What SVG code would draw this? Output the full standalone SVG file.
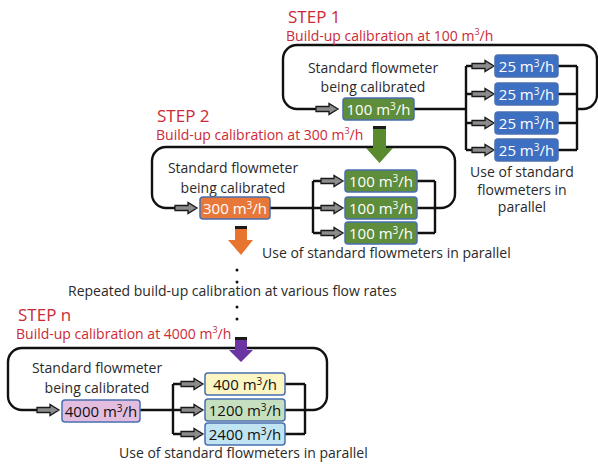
<svg xmlns="http://www.w3.org/2000/svg" width="598" height="464" viewBox="0 0 598 464">
<style>
.t{font-family:"Open Sans","Noto Sans",sans-serif;font-size:14px;fill:#2a2a2a}
.tc{text-anchor:middle}
.step{font-family:"Open Sans","Noto Sans",sans-serif;font-size:17px;fill:#cc2a36}
.bu{font-family:"Open Sans","Noto Sans",sans-serif;font-size:14px;fill:#cc2a36}
.bx{stroke:#4a6fae;stroke-width:1.5}
.bt{font-family:"Open Sans","Noto Sans",sans-serif;font-size:15px;text-anchor:middle}
.w{fill:#ffffff}
.k{fill:#111111}
.ln{fill:none;stroke:#111111;stroke-width:2.4;stroke-linejoin:round}
.green{fill:#5e8d3c}
.blue{fill:#3d6fc2}
.orange{fill:#e8773a}
.pink{fill:#e2bde0}
.yellow{fill:#fbf6c4}
.lgreen{fill:#c6e0bf}
.lblue{fill:#c0e4f2}
</style>
<defs>
<path id="sa" d="M0,-2.5 H13 V-5.5 L22,0 L13,5.5 V2.5 H0 Z" fill="#8c8c8c" stroke="#1a1a1a" stroke-width="1.3" stroke-linejoin="miter"/>
</defs>

<g id="connectors">
<path class="ln" d="M577,109 H583 A14,14 0 0 0 597,95 V59 A14,14 0 0 0 583,45 H297 A14,14 0 0 0 283,59 V95 A14,14 0 0 0 297,109 H316"/>
<path class="ln" d="M414,109 H466 M466,66 V150 M466,66 H473 M466,94 H473 M466,123 H473 M466,150 H473"/>
<path class="ln" d="M558,66 H577 M558,94 H577 M558,123 H577 M558,150 H577 M577,66 V150"/>
<use href="#sa" x="316" y="109"/>
<use href="#sa" x="472" y="66"/>
<use href="#sa" x="472" y="94"/>
<use href="#sa" x="472" y="123"/>
<use href="#sa" x="472" y="150"/>

<path class="ln" d="M435,208 H441 A14,14 0 0 0 455,194 V161 A14,14 0 0 0 441,147 H166 A14,14 0 0 0 152,161 V194 A14,14 0 0 0 166,208 H175"/>
<path class="ln" d="M270,208 H313 M313,181 V233 M313,181 H321 M313,208 H321 M313,233 H321"/>
<path class="ln" d="M417,181 H435 M417,208 H435 M417,233 H435 M435,181 V233"/>
<use href="#sa" x="175" y="208"/>
<use href="#sa" x="321" y="181"/>
<use href="#sa" x="321" y="208"/>
<use href="#sa" x="321" y="233"/>

<path class="ln" d="M305,410 H313 A14,14 0 0 0 327,396 V362 A14,14 0 0 0 313,348 H22 A14,14 0 0 0 8,362 V396 A14,14 0 0 0 22,410 H37"/>
<path class="ln" d="M140,410 H173 M173,384 V434 M173,384 H181 M173,410 H181 M173,434 H181"/>
<path class="ln" d="M285,384 H305 M285,410 H305 M285,434 H305 M305,384 V434"/>
<use href="#sa" x="37" y="410"/>
<use href="#sa" x="181" y="384"/>
<use href="#sa" x="181" y="410"/>
<use href="#sa" x="181" y="434"/>

<rect x="373" y="126" width="13" height="3" fill="#1a1a1a"/>
<path d="M373,129 H386 V148 H393 L379.5,163 L366,148 H373 Z" fill="#5a8a2e"/>
<rect x="235" y="226" width="12" height="3" fill="#1a1a1a"/>
<path d="M235,229 H247 V240 H253 L241,255 L228,240 H235 Z" fill="#e8752f"/>
<rect x="235" y="337" width="12" height="3" fill="#1a1a1a"/>
<path d="M235,340 H247 V350 H253 L241,362 L229,350 H235 Z" fill="#6a35a3"/>

<g fill="#111111">
<circle cx="237" cy="270" r="1.5"/>
<circle cx="237" cy="282" r="1.5"/>
<circle cx="237" cy="307" r="1.5"/>
<circle cx="237" cy="319" r="1.5"/>
</g>
</g>

<g id="step1">
<text class="step" x="288" y="23">STEP 1</text>
<text class="bu" x="286" y="41">Build-up calibration at 100 m<tspan font-size="9" dy="-6">3</tspan><tspan dy="6">/h</tspan></text>
<text class="t tc" x="373" y="73">Standard flowmeter</text>
<text class="t tc" x="373" y="92">being calibrated</text>
<text class="t tc" x="522" y="177">Use of standard</text>
<text class="t tc" x="522" y="194.5">flowmeters in</text>
<text class="t tc" x="522" y="212">parallel</text>
</g>
<g id="s1-meter">
<rect class="bx green" x="343" y="98" width="71" height="22" rx="3"/>
<text class="bt w" x="378.5" y="114.5">100 m<tspan font-size="10" dy="-5">3</tspan><tspan dy="5">/h</tspan></text>
</g>
<g id="s1-ref1"><rect class="bx blue" x="495" y="55" width="63" height="22" rx="3"/><text class="bt w" x="526.5" y="71.5">25 m<tspan font-size="10" dy="-5">3</tspan><tspan dy="5">/h</tspan></text></g>
<g id="s1-ref2"><rect class="bx blue" x="495" y="83" width="63" height="22" rx="3"/><text class="bt w" x="526.5" y="99.5">25 m<tspan font-size="10" dy="-5">3</tspan><tspan dy="5">/h</tspan></text></g>
<g id="s1-ref3"><rect class="bx blue" x="495" y="112" width="63" height="22" rx="3"/><text class="bt w" x="526.5" y="128.5">25 m<tspan font-size="10" dy="-5">3</tspan><tspan dy="5">/h</tspan></text></g>
<g id="s1-ref4"><rect class="bx blue" x="495" y="139" width="63" height="22" rx="3"/><text class="bt w" x="526.5" y="155.5">25 m<tspan font-size="10" dy="-5">3</tspan><tspan dy="5">/h</tspan></text></g>

<g id="step2">
<text class="step" x="157" y="122">STEP 2</text>
<text class="bu" x="156" y="140">Build-up calibration at 300 m<tspan font-size="9" dy="-6">3</tspan><tspan dy="6">/h</tspan></text>
<text class="t tc" x="233" y="173">Standard flowmeter</text>
<text class="t tc" x="233" y="193">being calibrated</text>
<text class="t" x="262" y="258">Use of standard flowmeters in parallel</text>
</g>
<g id="s2-meter">
<rect class="bx orange" x="200" y="197" width="70" height="22" rx="3"/>
<text class="bt w" x="235" y="213.5">300 m<tspan font-size="10" dy="-5">3</tspan><tspan dy="5">/h</tspan></text>
</g>
<g id="s2-ref1"><rect class="bx green" x="345" y="170" width="72" height="22" rx="3"/><text class="bt w" x="381" y="186.5">100 m<tspan font-size="10" dy="-5">3</tspan><tspan dy="5">/h</tspan></text></g>
<g id="s2-ref2"><rect class="bx green" x="345" y="197" width="72" height="22" rx="3"/><text class="bt w" x="381" y="213.5">100 m<tspan font-size="10" dy="-5">3</tspan><tspan dy="5">/h</tspan></text></g>
<g id="s2-ref3"><rect class="bx green" x="345" y="222" width="72" height="22" rx="3"/><text class="bt w" x="381" y="238.5">100 m<tspan font-size="10" dy="-5">3</tspan><tspan dy="5">/h</tspan></text></g>

<g id="repeat">
<text class="t" x="68" y="296">Repeated build-up calibration at various flow rates</text>
</g>

<g id="stepn">
<text class="step" x="18" y="321">STEP n</text>
<text class="bu" x="16" y="339">Build-up calibration at 4000 m<tspan font-size="9" dy="-6">3</tspan><tspan dy="6">/h</tspan></text>
<text class="t tc" x="97" y="373">Standard flowmeter</text>
<text class="t tc" x="97" y="393">being calibrated</text>
<text class="t" x="119" y="458">Use of standard flowmeters in parallel</text>
</g>
<g id="sn-meter">
<rect class="bx pink" x="62" y="400" width="78" height="22" rx="3"/>
<text class="bt k" x="101" y="416.5">4000 m<tspan font-size="10" dy="-5">3</tspan><tspan dy="5">/h</tspan></text>
</g>
<g id="sn-ref1"><rect class="bx yellow" x="205" y="373" width="80" height="22" rx="3"/><text class="bt k" x="245" y="389.5">400 m<tspan font-size="10" dy="-5">3</tspan><tspan dy="5">/h</tspan></text></g>
<g id="sn-ref2"><rect class="bx lgreen" x="205" y="399" width="80" height="22" rx="3"/><text class="bt k" x="245" y="415.5">1200 m<tspan font-size="10" dy="-5">3</tspan><tspan dy="5">/h</tspan></text></g>
<g id="sn-ref3"><rect class="bx lblue" x="205" y="423" width="80" height="22" rx="3"/><text class="bt k" x="245" y="439.5">2400 m<tspan font-size="10" dy="-5">3</tspan><tspan dy="5">/h</tspan></text></g>
</svg>
